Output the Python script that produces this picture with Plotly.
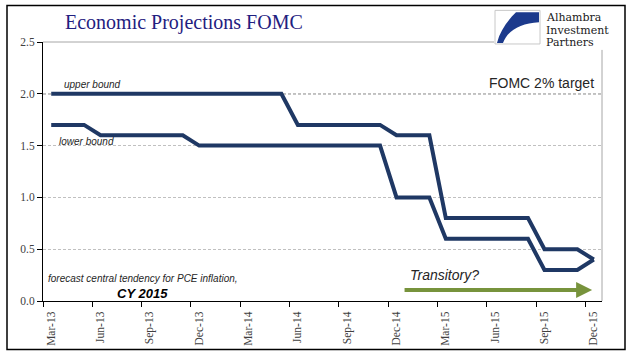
import plotly.graph_objects as go

# ---------------- data ----------------
months = ["Mar-13", "Apr-13", "May-13", "Jun-13", "Jul-13", "Aug-13", "Sep-13", "Oct-13",
          "Nov-13", "Dec-13", "Jan-14", "Feb-14", "Mar-14", "Apr-14", "May-14", "Jun-14",
          "Jul-14", "Aug-14", "Sep-14", "Oct-14", "Nov-14", "Dec-14", "Jan-15", "Feb-15",
          "Mar-15", "Apr-15", "May-15", "Jun-15", "Jul-15", "Aug-15", "Sep-15", "Oct-15",
          "Nov-15", "Dec-15"]

upper_bound = [2.0, 2.0, 2.0, 2.0, 2.0, 2.0, 2.0, 2.0, 2.0, 2.0, 2.0, 2.0, 2.0, 2.0, 2.0,
               1.7, 1.7, 1.7, 1.7, 1.7, 1.7,
               1.6, 1.6, 1.6,
               0.8, 0.8, 0.8, 0.8, 0.8, 0.8,
               0.5, 0.5, 0.5,
               0.4]

lower_bound = [1.7, 1.7, 1.7,
               1.6, 1.6, 1.6, 1.6, 1.6, 1.6,
               1.5, 1.5, 1.5, 1.5, 1.5, 1.5, 1.5, 1.5, 1.5, 1.5, 1.5, 1.5,
               1.0, 1.0, 1.0,
               0.6, 0.6, 0.6, 0.6, 0.6, 0.6,
               0.3, 0.3, 0.3,
               0.4]

tick_labels = ["Mar-13", "Jun-13", "Sep-13", "Dec-13", "Mar-14", "Jun-14",
               "Sep-14", "Dec-14", "Mar-15", "Jun-15", "Sep-15", "Dec-15"]

target = 2.0

# ---------------- layout helpers ----------------
W, H = 641, 358
L, R, T, B = 43, 39, 42, 54
PW, PH = W - L - R, H - T - B


def PX(x):
    return (x - L) / PW


def PY(y):
    return (H - B - y) / PH


x_idx = list(range(len(months)))
tick_pos = [months.index(t) - 0.5 for t in tick_labels]

LINE_COLOR = "#1f3864"

fig = go.Figure()
fig.add_trace(go.Scatter(x=x_idx, y=upper_bound, mode="lines", name="upper bound",
                         customdata=months, hovertemplate="%{customdata}: %{y}<extra></extra>",
                         line=dict(color=LINE_COLOR, width=4)))
fig.add_trace(go.Scatter(x=x_idx, y=lower_bound, mode="lines", name="lower bound",
                         customdata=months, hovertemplate="%{customdata}: %{y}<extra></extra>",
                         line=dict(color=LINE_COLOR, width=4)))

serif = "Liberation Serif, Times New Roman, serif"
sans = "Liberation Sans, Arial, sans-serif"

fig.update_layout(
    width=W, height=H,
    margin=dict(l=L, r=R, t=T, b=B, pad=0),
    paper_bgcolor="white", plot_bgcolor="white",
    showlegend=False,
    xaxis=dict(range=[-0.5, len(months) - 0.5], tickmode="array", tickvals=tick_pos,
               ticktext=tick_labels, tickangle=-90, ticklabelshift=8,
               ticks="outside", ticklen=5, tickcolor="black",
               showline=True, linecolor="black", linewidth=1,
               showgrid=False, zeroline=False,
               tickfont=dict(family=serif, size=11.5, color="#404040")),
    yaxis=dict(range=[0, 2.5], tickmode="array", tickvals=[0, 0.5, 1.0, 1.5, 2.0, 2.5],
               tickformat=".1f", ticks="outside", ticklen=5, tickcolor="black",
               showline=True, linecolor="black", linewidth=1,
               showgrid=True, gridcolor="#c0c0c0", gridwidth=1, griddash="3px,2px",
               zeroline=False,
               tickfont=dict(family=serif, size=11.5, color="#404040")),
)

shapes = []
# target line at 2.0
shapes.append(dict(type="line", xref="paper", yref="y", x0=0, x1=1, y0=target, y1=target,
                   line=dict(color="#404040", width=1, dash="3px,2px"), layer="between"))
# plot-area top and right border
shapes.append(dict(type="line", xref="paper", yref="paper", x0=0, x1=PX(495), y0=1, y1=1,
                   line=dict(color="#a6a6a6", width=1), layer="above"))
shapes.append(dict(type="line", xref="paper", yref="paper", x0=1, x1=1, y0=0, y1=PY(50),
                   line=dict(color="#a6a6a6", width=1), layer="above"))
# white area behind logo
shapes.append(dict(type="rect", xref="paper", yref="paper", x0=PX(494), x1=PX(622),
                   y0=PY(49), y1=PY(7), fillcolor="white", line=dict(width=0), layer="above"))
# outer frame
shapes.append(dict(type="rect", xref="paper", yref="paper", x0=PX(7), x1=PX(625),
                   y0=PY(353), y1=PY(5), line=dict(color="black", width=1.5),
                   fillcolor="rgba(0,0,0,0)", layer="above"))
# logo box
shapes.append(dict(type="rect", xref="paper", yref="paper", x0=PX(495), x1=PX(540),
                   y0=PY(44), y1=PY(10), fillcolor="white",
                   line=dict(color="#c8c8c8", width=1), layer="above"))


def pth(pts):
    out = []
    for cmd, coords in pts:
        s = cmd + " " + " ".join(
            f"{PX(coords[i]):.5f},{PY(coords[i + 1]):.5f}" for i in range(0, len(coords), 2))
        out.append(s)
    return " ".join(out) + " Z"


logo_path = pth([("M", (516, 12)), ("L", (539, 12)), ("L", (539, 22)),
                 ("C", (520, 23, 507, 31, 503, 43)), ("L", (497, 43)),
                 ("C", (500, 31, 507, 21, 516, 12))])
shapes.append(dict(type="path", xref="paper", yref="paper", path=logo_path,
                   fillcolor="#1c3a8c", line=dict(width=0), layer="above"))
fig.update_layout(shapes=shapes)

ann = []


def text(t, x, y, size, family=sans, color="#262626", xanchor="left", italic=False, bold=False):
    if italic:
        t = f"<i>{t}</i>"
    if bold:
        t = f"<b>{t}</b>"
    ann.append(dict(text=t, xref="paper", yref="paper", x=PX(x), y=PY(y), xanchor=xanchor,
                    yanchor="middle", showarrow=False, borderpad=0,
                    font=dict(family=family, size=size, color=color)))


logo_font = "DejaVu Serif, serif"
text("Economic Projections FOMC", 184, 22, 20, family=serif, color="#1f2080", xanchor="center")
text("Alhambra", 545, 17, 11, family=logo_font, color="#202020")
text("Investment", 545, 30, 11, family=logo_font, color="#202020")
text("Partners", 545, 43, 11, family=logo_font, color="#202020")
text("upper bound", 63, 85, 10, italic=True)
text("lower bound", 58, 143, 10, italic=True)
text("FOMC 2% target", 488, 83, 14)
text("forecast central tendency for PCE inflation,", 47, 281, 10, italic=True)
text("CY 2015", 116, 296, 13, italic=True, bold=True, color="black")
text("Transitory?", 409, 278, 14, italic=True)

# green arrow
arrow_y = 0.105
ann.append(dict(x=len(months) - 1.1, y=arrow_y, ax=21.4, ay=arrow_y, xref="x", yref="y",
                axref="x", ayref="y", text="", showarrow=True, arrowhead=2,
                arrowsize=0.8, arrowwidth=4, arrowcolor="#77933c"))

fig.update_layout(annotations=ann)

fig.write_html("out.html", config={"displayModeBar": False},
               post_script="document.body.style.margin='0px';")
